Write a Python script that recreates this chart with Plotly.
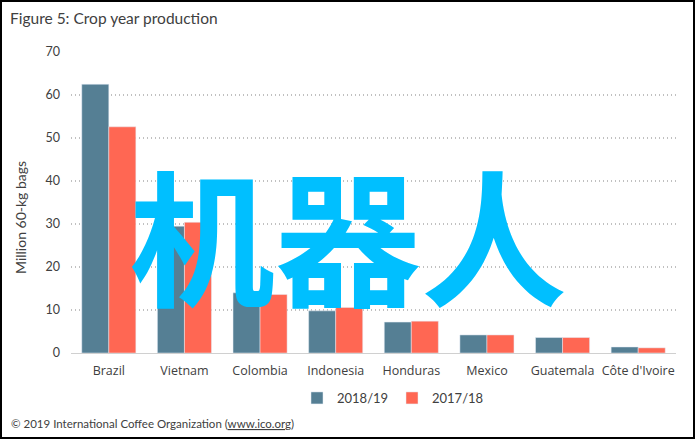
import plotly.graph_objects as go

categories = ["Brazil", "Vietnam", "Colombia", "Indonesia", "Honduras", "Mexico", "Guatemala", "Côte d'Ivoire"]
crop_2018_19 = [62.5, 29.5, 14.0, 9.8, 7.2, 4.2, 3.6, 1.4]
crop_2017_18 = [52.6, 30.4, 13.6, 10.6, 7.4, 4.2, 3.6, 1.2]
y_ticks = [0, 10, 20, 30, 40, 50, 60, 70]

W, H = 695, 439
L, R, T, B = 71, 19, 52, 86
PW, PH = W - L - R, H - T - B

def px(x):
    return (x - L) / PW

def py(y):
    return (H - B - y) / PH

fig = go.Figure()
fig.add_bar(x=categories, y=crop_2018_19, name="2018/19", marker_color="#557f94")
fig.add_bar(x=categories, y=crop_2017_18, name="2017/18", marker_color="#ff6753")

fig.update_layout(
    width=W, height=H,
    margin=dict(l=L, r=R, t=T, b=B),
    paper_bgcolor="white", plot_bgcolor="white",
    barmode="group", bargap=0.285, bargroupgap=0,
    showlegend=True,
    legend=dict(orientation="h", x=px(392), xanchor="center", y=py(398), yanchor="middle",
                font=dict(family="Lato", size=13, color="#404040"), traceorder="normal",
                itemwidth=30, entrywidth=50, tracegroupgap=0),
    font=dict(family="Open Sans", color="#595959"),
)
fig.update_xaxes(showgrid=False, showline=True, linecolor="#d0d0d0", linewidth=1,
                 tickfont=dict(family="Open Sans", size=12.5, color="#404040"), ticks="",
                 ticklabelstandoff=6)
fig.update_yaxes(range=[0, 70], tickvals=y_ticks, showgrid=True, gridcolor="#c0c0c0",
                 griddash="1px,3px", gridwidth=1.5, zeroline=False, showline=False,
                 tickfont=dict(family="Lato", size=12.5, color="#404040"), ticks="",
                 ticklabelstandoff=10)

# whole-figure border
fig.add_shape(type="rect", xref="paper", yref="paper",
              x0=px(1), x1=px(W - 1), y0=py(H - 1), y1=py(1),
              line=dict(color="black", width=2))

fig.add_annotation(text="Figure 5: Crop year production", xref="paper", yref="paper",
                   x=px(8), y=py(18), xanchor="left", yanchor="middle", showarrow=False,
                   font=dict(family="Lato", size=15.5, color="#404040"))
fig.add_annotation(text="Million 60-kg bags", xref="paper", yref="paper",
                   x=px(20), y=py(218), textangle=-90, showarrow=False,
                   xanchor="center", yanchor="middle",
                   font=dict(family="Lato", size=14, color="#404040"))
fig.add_annotation(text="© 2019 International Coffee Organization (<u>www.ico.org</u>)",
                   xref="paper", yref="paper", x=px(9), y=py(423),
                   xanchor="left", yanchor="middle", showarrow=False,
                   font=dict(family="Lato", size=11.5, color="#404040"))
fig.add_annotation(text="<b>机器人</b>", xref="paper", yref="paper",
                   x=px(348), y=py(231), xanchor="center", yanchor="middle", showarrow=False,
                   font=dict(family="Noto Sans CJK SC", size=146, color="#00bfff"))

fig.write_html("out.html")
